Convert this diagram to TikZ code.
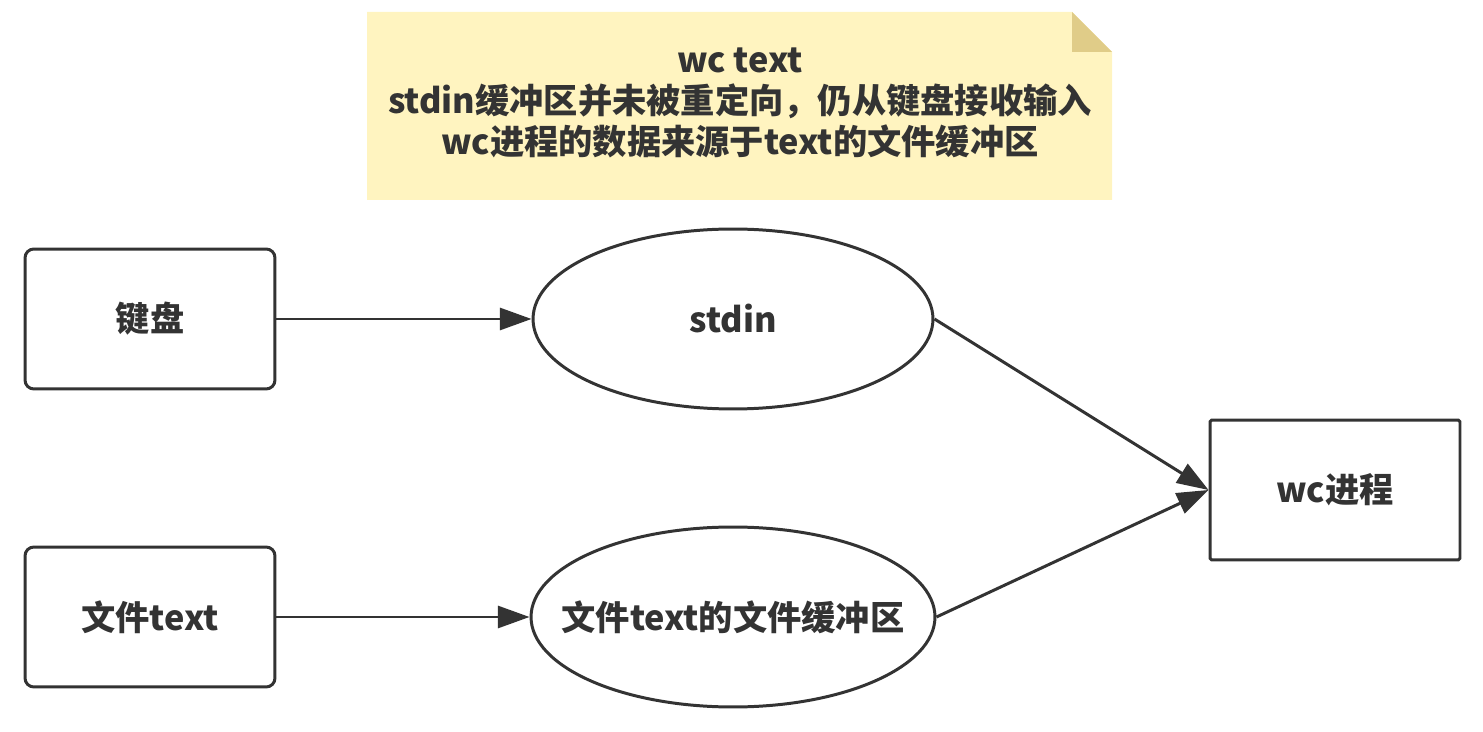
\documentclass[tikz,border=0pt]{standalone}
\usepackage{fontspec}
\setmainfont{Noto Sans CJK SC}
\usepackage{tikz}
\usetikzlibrary{arrows.meta,shapes.geometric}

\definecolor{linegray}{HTML}{333333}
\definecolor{notefill}{HTML}{FFF4C0}
\definecolor{notefold}{HTML}{E0CC88}

\tikzset{
	lbl/.style={text=linegray,font=\fontsize{19.5}{23.5}\selectfont\bfseries},
	devbox/.style={lbl,rectangle,draw=linegray,line width=1.7pt,rounded corners=5pt,
		minimum width=5cm,minimum height=2.8cm,inner sep=0pt},
	procbox/.style={devbox,rounded corners=1pt},
	buf/.style={lbl,ellipse,draw=linegray,line width=1.7pt,
		minimum width=8cm,minimum height=3.6cm,inner sep=0pt},
	flow/.style={draw=linegray,line width=1.7pt,-{Triangle[length=18pt,width=12.5pt]}}
}

\begin{document}
\begin{tikzpicture}[x=0.02cm,y=-0.02cm]
		\useasboundingbox (0,0) rectangle (1483,732);
%		\draw[help lines,step=100] (0,0) grid (1483,732);
		\path (367,12) coordinate (note_tl);
		\path (1072,12) coordinate (note_fold_t);
		\path (1072,52) coordinate (note_fold_c);
		\path (1112,52) coordinate (note_fold_r);
		\path (1112,200) coordinate (note_br);
		\path (367,200) coordinate (note_bl);
		\path (740,103) coordinate (note_mid);

		\path (150,319) coordinate (kbd_pos);
		\path (150,617) coordinate (file_pos);
		\path (733,319) coordinate (stdin_pos);
		\path (733,617) coordinate (fbuf_pos);
		\path (1335,490) coordinate (wc_pos);

		% note with folded corner
		\fill[notefill] (note_tl) -- (note_fold_t) -- (note_fold_r) -- (note_br) -- (note_bl) -- cycle;
		\fill[notefold] (note_fold_t) -- (note_fold_c) -- (note_fold_r) -- cycle;
		\node (note) [lbl,align=center] at (note_mid) {wc text\\stdin缓冲区并未被重定向，仍从键盘接收输入\\wc进程的数据来源于text的文件缓冲区};

		\node (kbd) [devbox] at (kbd_pos) {键盘};
		\node (file) [devbox] at (file_pos) {文件text};
		\node (stdin) [buf] at (stdin_pos) {stdin};
		% text kept zero-width so the ellipse keeps its size
		\node (fbuf) [buf,minimum width=8.08cm] at (fbuf_pos) {\makebox[0pt]{文件text的文件缓冲区}};
		\node (wc) [procbox] at (wc_pos) {wc进程};

		\draw[flow] (kbd.east) -- (stdin.west);
		\draw[flow] (file.east) -- (fbuf.west);
		\draw[flow] (stdin.east) -- (wc.west);
		\draw[flow] (fbuf.east) -- (wc.west);
	\end{tikzpicture}
\end{document}
